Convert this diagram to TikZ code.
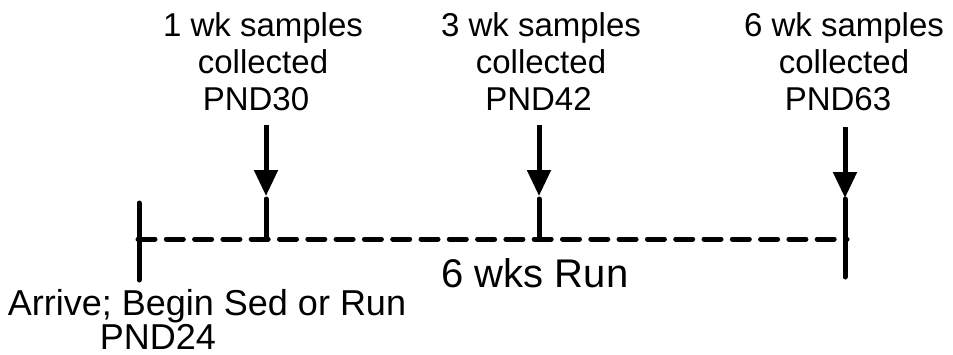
\documentclass[tikz,border=0pt]{standalone}
\usepackage{fontspec}
\setmainfont{Liberation Sans}
\usetikzlibrary{arrows.meta}

\tikzset{
  mark label/.style={anchor=base, align=center, inner sep=0pt,
    font=\fontsize{33}{37}\selectfont},
  run label/.style={anchor=base, inner sep=0pt, font=\fontsize{40}{44}\selectfont},
  start label/.style={anchor=base, align=center, inner sep=0pt,
    font=\fontsize{36}{34}\selectfont},
  timeline/.style={line width=5pt, line cap=round, dash pattern=on 17pt off 11.3pt},
  tickline/.style={line width=5pt, line cap=round},
  sample arrow/.style={line width=5pt, -{Triangle[length=26pt,width=23pt]}},
}

\begin{document}
\begin{tikzpicture}[x=1pt, y=-1pt]
  \useasboundingbox (0,0) rectangle (953,354);

  % time axis end points and tick positions
  \coordinate (t0) at (138,239);
  \coordinate (t6) at (847,239);
  \coordinate (w0top) at (139,203);
  \coordinate (w0bot) at (139,280);
  \coordinate (w1top) at (266,199);
  \coordinate (w1) at (266,239);
  \coordinate (w3top) at (539,199);
  \coordinate (w3) at (539,239);
  \coordinate (w6top) at (845,199);
  \coordinate (w6bot) at (845,277);

  % arrow starts and arrow tips
  \coordinate (a1) at (266,125);
  \coordinate (a1tip) at (266,196);
  \coordinate (a3) at (539,125);
  \coordinate (a3tip) at (539,196);
  \coordinate (a6) at (845,127);
  \coordinate (a6tip) at (845,198);

  % dashed timeline
  \draw[timeline] (t0) -- (t6);

  % ticks
  \draw[tickline] (w0top) -- (w0bot);
  \draw[tickline] (w1top) -- (w1);
  \draw[tickline] (w3top) -- (w3);
  \draw[tickline] (w6top) -- (w6bot);

  % sampling arrows
  \draw[sample arrow] (a1) -- (a1tip);
  \draw[sample arrow] (a3) -- (a3tip);
  \draw[sample arrow] (a6) -- (a6tip);

  % labels (base anchor sits on the last line)
  \node[mark label] (lab1) at (263,110) {1 wk samples\\collected\\PND30\hspace*{14pt}};
  \node[mark label] (lab3) at (541,110) {3 wk samples\\collected\\PND42\hspace*{5pt}};
  \node[mark label] (lab6) at (844,110) {6 wk samples\\collected\\PND63\hspace*{12pt}};
  \node[run label] (run) at (535,287) {6 wks Run};
  \node[start label] (start) at (207,349) {Arrive; Begin Sed or Run\\PND24\hspace*{98pt}};
\end{tikzpicture}
\end{document}
